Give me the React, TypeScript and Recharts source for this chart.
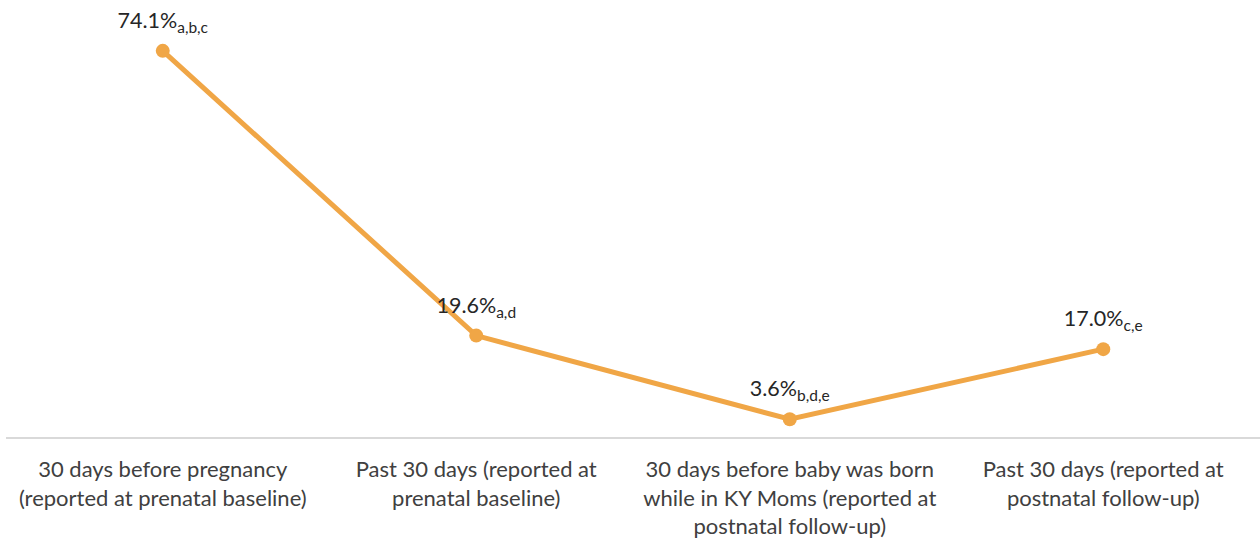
import { LineChart, Line, XAxis, YAxis, LabelList } from 'recharts';

const categories = ['pre-pregnancy', 'prenatal-past30', 'before-birth', 'postnatal-past30'];
const tickLines = [
  ['30 days before pregnancy', '(reported at prenatal baseline)'],
  ['Past 30 days (reported at', 'prenatal baseline)'],
  ['30 days before baby was born', 'while in KY Moms (reported at', 'postnatal follow-up)'],
  ['Past 30 days (reported at', 'postnatal follow-up)'],
];
const values = [74.1, 19.6, 3.6, 17.0];
const subscripts = ['a,b,c', 'a,d', 'b,d,e', 'c,e'];

const data = categories.map((c, i) => ({ key: c, value: values[i], sub: subscripts[i] }));

const FONT = 'Lato, "Open Sans", sans-serif';
const COLOR = '#F0A646';

function CategoryTick(props: any) {
  const { x, y, payload } = props;
  const lines = tickLines[payload.index] ?? [];
  return (
    <text x={x} y={y} textAnchor="middle" fill="#404040" fontSize={22} fontFamily={FONT}>
      {lines.map((l, i) => (
        <tspan key={i} x={x} dy={i === 0 ? 39 : 28.5}>
          {l}
        </tspan>
      ))}
    </text>
  );
}

function ValueLabel(props: any) {
  const { x, y, index } = props;
  return (
    <text x={x} y={y - 23} textAnchor="middle" fill="#262626" fontFamily={FONT} fontSize={21.5}>
      {values[index].toFixed(1)}%
      <tspan fontSize={15.5} dy={5}>{subscripts[index]}</tspan>
    </text>
  );
}

export default function App() {
  return (
    <div style={{ position: 'absolute', left: 0, top: 0, width: 1260, height: 542, background: '#fff' }}>
      <LineChart width={1260} height={542} data={data} margin={{ top: 20, right: 0, left: 6, bottom: 0 }}>
        <XAxis
          dataKey="key"
          height={104}
          padding={{ left: 156.75, right: 156.75 }}
          tick={<CategoryTick />}
          tickLine={false}
          tickSize={0}
          tickMargin={0}
          axisLine={{ stroke: '#d9d9d9', strokeWidth: 2 }}
          interval={0}
        />
        <YAxis hide domain={[0, 80]} />
        <Line
          type="linear"
          dataKey="value"
          stroke={COLOR}
          strokeWidth={5}
          dot={{ r: 7, fill: COLOR, stroke: COLOR, strokeWidth: 0 }}
          isAnimationActive={false}
        >
          <LabelList dataKey="value" content={<ValueLabel />} />
        </Line>
      </LineChart>
    </div>
  );
}
